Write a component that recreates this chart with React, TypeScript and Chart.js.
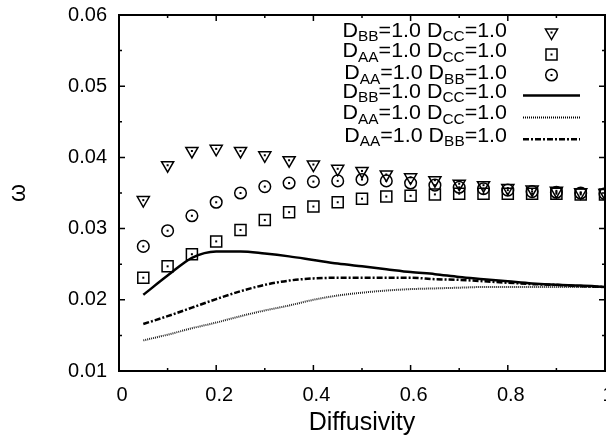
import React, { useEffect, useRef } from "react";
import { Chart, registerables } from "chart.js";

Chart.register(...registerables);

const FONT = "'Liberation Sans', Arial, Helvetica, sans-serif";

const xValues = [0.05, 0.1, 0.15, 0.2, 0.25, 0.3, 0.35, 0.4, 0.45, 0.5, 0.55, 0.6, 0.65, 0.7, 0.75, 0.8, 0.85, 0.9, 0.95, 1.0];

// markers
const bbccPoints = [0.034, 0.0389, 0.0409, 0.0412, 0.0409, 0.0403, 0.0396, 0.039, 0.0384, 0.0381, 0.0376, 0.0372, 0.0368, 0.0363, 0.0361, 0.0357, 0.0355, 0.0353, 0.0351, 0.035];
const aaccPoints = [0.0231, 0.0247, 0.0264, 0.0282, 0.0298, 0.0312, 0.0323, 0.0331, 0.0337, 0.0342, 0.0345, 0.0346, 0.0348, 0.0349, 0.0349, 0.0349, 0.0349, 0.0349, 0.0348, 0.0348];
const aabbPoints = [0.0275, 0.0297, 0.0318, 0.0337, 0.035, 0.0359, 0.0364, 0.0366, 0.0367, 0.0369, 0.0367, 0.0364, 0.0361, 0.0358, 0.0356, 0.0354, 0.0352, 0.0351, 0.035, 0.0349];

// lines
const bbccLine = [0.0207, 0.0234, 0.0259, 0.0268, 0.0268, 0.0265, 0.0261, 0.0256, 0.0251, 0.0247, 0.0243, 0.0239, 0.0236, 0.0232, 0.0229, 0.0226, 0.0223, 0.0221, 0.022, 0.0218];
const aaccLine = [0.0143, 0.0151, 0.016, 0.0168, 0.0177, 0.0185, 0.0192, 0.02, 0.0206, 0.021, 0.0213, 0.0215, 0.0216, 0.0217, 0.0218, 0.0218, 0.0218, 0.0218, 0.0218, 0.0218];
const aabbLine = [0.0166, 0.0177, 0.0189, 0.0201, 0.0212, 0.0221, 0.0227, 0.023, 0.0231, 0.0231, 0.0231, 0.0231, 0.0229, 0.0228, 0.0226, 0.0224, 0.0222, 0.0221, 0.0219, 0.0218];

const xTickLabels = ["0", "0.2", "0.4", "0.6", "0.8", "1"];
const yTickLabels = ["0.01", "0.02", "0.03", "0.04", "0.05", "0.06"];

// legend subscripts: D_{a}=1.0 D_{b}=1.0
const legendSubs = [
  ["BB", "CC"],
  ["AA", "CC"],
  ["AA", "BB"],
  ["BB", "CC"],
  ["AA", "CC"],
  ["AA", "BB"],
];

const toXY = (ys: number[]) => xValues.map((x, i) => ({ x, y: ys[i] }));

const framePlugin = {
  id: "frame",
  afterDraw(chart: any) {
    const { ctx, chartArea: a, scales } = chart;
    const xs = scales.x;
    const ys = scales.y;
    ctx.save();
    ctx.strokeStyle = "#000";
    ctx.lineWidth = 1.5;
    const major = 6;
    const minor = 3;
    const xt = xs.ticks.map((t: any) => t.value);
    const yt = ys.ticks.map((t: any) => t.value);
    ctx.beginPath();
    xt.forEach((v: number, i: number) => {
      const px = xs.getPixelForValue(v);
      ctx.moveTo(px, a.bottom);
      ctx.lineTo(px, a.bottom - major);
      ctx.moveTo(px, a.top);
      ctx.lineTo(px, a.top + major);
      if (i < xt.length - 1) {
        const m = xs.getPixelForValue((v + xt[i + 1]) / 2);
        ctx.moveTo(m, a.bottom);
        ctx.lineTo(m, a.bottom - minor);
        ctx.moveTo(m, a.top);
        ctx.lineTo(m, a.top + minor);
      }
    });
    yt.forEach((v: number, i: number) => {
      const py = ys.getPixelForValue(v);
      ctx.moveTo(a.left, py);
      ctx.lineTo(a.left + major, py);
      ctx.moveTo(a.right, py);
      ctx.lineTo(a.right - major, py);
      if (i < yt.length - 1) {
        const m = ys.getPixelForValue((v + yt[i + 1]) / 2);
        ctx.moveTo(a.left, m);
        ctx.lineTo(a.left + minor, m);
        ctx.moveTo(a.right, m);
        ctx.lineTo(a.right - minor, m);
      }
    });
    ctx.stroke();
    ctx.lineWidth = 2;
    ctx.strokeRect(a.left, a.top, a.right - a.left, a.bottom - a.top);
    ctx.restore();
  },
};

function drawMarker(ctx: CanvasRenderingContext2D, style: string, x: number, y: number, r: number) {
  ctx.beginPath();
  if (style === "triangle") {
    ctx.moveTo(x, y + r);
    ctx.lineTo(x - 0.866 * r, y - 0.5 * r);
    ctx.lineTo(x + 0.866 * r, y - 0.5 * r);
    ctx.closePath();
  } else if (style === "rect") {
    const s = r * Math.SQRT1_2;
    ctx.rect(x - s, y - s, 2 * s, 2 * s);
  } else {
    ctx.arc(x, y, r, 0, Math.PI * 2);
  }
  ctx.stroke();
  ctx.fillRect(x - 1, y - 1, 2, 2);
}

const dotsPlugin = {
  id: "dots",
  afterDatasetsDraw(chart: any) {
    const { ctx } = chart;
    ctx.save();
    ctx.fillStyle = "#000";
    chart.data.datasets.forEach((ds: any, i: number) => {
      if (ds.showLine === false) {
        chart.getDatasetMeta(i).data.forEach((el: any) => {
          ctx.fillRect(el.x - 1, el.y - 1, 2, 2);
        });
      }
    });
    ctx.restore();
  },
};

const keyPlugin = {
  id: "gkey",
  afterDraw(chart: any) {
    const { ctx } = chart;
    const textRight = 507;
    const sampleLeft = 523;
    const sampleRight = 580;
    const stretch = 1.1;
    const baselines = [36.7, 57.3, 79.3, 97.5, 119.3, 141.7];
    const sampleY = [32.5, 54.5, 75, 95.5, 117.5, 139.3];
    const mainFont = `19.5px ${FONT}`;
    const subFont = `14px ${FONT}`;
    ctx.save();
    ctx.fillStyle = "#000";
    ctx.strokeStyle = "#000";
    ctx.textBaseline = "alphabetic";
    ctx.textAlign = "left";
    chart.data.datasets.forEach((ds: any, i: number) => {
      const [s1, s2] = legendSubs[i];
      const segs: [string, boolean][] = [
        ["D", false],
        [s1, true],
        ["=1.0 D", false],
        [s2, true],
        ["=1.0", false],
      ];
      let total = 0;
      segs.forEach(([t, sub]) => {
        ctx.font = sub ? subFont : mainFont;
        total += ctx.measureText(t).width * stretch;
      });
      let x = textRight - total;
      const by = baselines[i];
      segs.forEach(([t, sub]) => {
        ctx.font = sub ? subFont : mainFont;
        ctx.save();
        ctx.translate(x, sub ? by + 4.5 : by);
        ctx.scale(stretch, 1);
        ctx.fillText(t, 0, 0);
        ctx.restore();
        x += ctx.measureText(t).width * stretch;
      });
      const sy = sampleY[i];
      if (ds.showLine === false) {
        ctx.lineWidth = 1.5;
        ctx.setLineDash([]);
        drawMarker(ctx, ds.pointStyle, (sampleLeft + sampleRight) / 2, sy, ds.pointRadius);
      } else {
        ctx.lineWidth = ds.borderWidth;
        ctx.setLineDash(ds.borderDash || []);
        ctx.beginPath();
        ctx.moveTo(sampleLeft, sy);
        ctx.lineTo(sampleRight, sy);
        ctx.stroke();
      }
    });
    ctx.restore();
  },
};

export default function App() {
  const ref = useRef<HTMLCanvasElement | null>(null);
  useEffect(() => {
    if (!ref.current) return;
    Chart.defaults.font.family = FONT;
    Chart.defaults.color = "#000";
    const pointCommon = {
      showLine: false,
      borderColor: "#000",
      backgroundColor: "rgba(0,0,0,0)",
      pointBorderWidth: 1.5,
      pointHoverRadius: 0,
    };
    const lineCommon = {
      showLine: true,
      borderColor: "#000",
      backgroundColor: "#000",
      pointRadius: 0,
      cubicInterpolationMode: "monotone" as const,
      fill: false,
    };
    const chart = new Chart(ref.current, {
      type: "line",
      data: {
        datasets: [
          { ...pointCommon, label: "bbcc-pts", data: toXY(bbccPoints), pointStyle: "triangle", rotation: 180, pointRadius: 7 },
          { ...pointCommon, label: "aacc-pts", data: toXY(aaccPoints), pointStyle: "rect", pointRadius: 7.8 },
          { ...pointCommon, label: "aabb-pts", data: toXY(aabbPoints), pointStyle: "circle", pointRadius: 5.8 },
          { ...lineCommon, label: "bbcc-line", data: toXY(bbccLine), borderWidth: 2.5, borderDash: [] },
          { ...lineCommon, label: "aacc-line", data: toXY(aaccLine), borderWidth: 2, borderDash: [1, 1], borderColor: "#222" },
          { ...lineCommon, label: "aabb-line", data: toXY(aabbLine), borderWidth: 2.5, borderDash: [6, 2, 2, 2] },
        ] as any,
      },
      options: {
        responsive: false,
        animation: false,
        devicePixelRatio: 1,
        layout: { padding: { left: 0, right: 35, top: 15, bottom: 0 } },
        plugins: { legend: { display: false }, tooltip: { enabled: false } },
        scales: {
          x: {
            type: "linear",
            min: 0,
            max: 1,
            grid: { display: false, drawTicks: false },
            border: { display: false },
            ticks: {
              stepSize: 0.2,
              padding: 12,
              labelOffset: 3,
              color: "#000",
              font: { size: 20 },
              maxRotation: 0,
              autoSkip: false,
              callback: (v: any, i: number) => xTickLabels[i] ?? String(v),
            },
            title: { display: true, text: "Diffusivity", color: "#000", font: { size: 25 }, padding: { top: 0, bottom: 5 } },
            afterFit: (s: any) => {
              s.height = 72;
              s.paddingLeft = 0;
              s.paddingRight = 0;
            },
          },
          y: {
            type: "linear",
            min: 0.01,
            max: 0.06,
            grid: { display: false, drawTicks: false },
            border: { display: false },
            ticks: {
              stepSize: 0.01,
              padding: 12,
              color: "#000",
              font: { size: 20 },
              autoSkip: false,
              callback: (v: any, i: number) => yTickLabels[i] ?? String(v),
            },
            title: { display: true, text: "ω", color: "#000", font: { size: 23 }, padding: { top: 5, bottom: 0 } },
            afterFit: (s: any) => {
              s.width = 119;
              s.paddingTop = 0;
              s.paddingBottom = 0;
            },
          },
        },
      } as any,
      plugins: [dotsPlugin, framePlugin, keyPlugin],
    });
    return () => chart.destroy();
  }, []);
  return (
    <div style={{ position: "fixed", left: 0, top: 0, width: 606, height: 443, overflow: "hidden", background: "#fff" }}>
      <canvas ref={ref} width={640} height={443} style={{ display: "block" }} />
    </div>
  );
}
